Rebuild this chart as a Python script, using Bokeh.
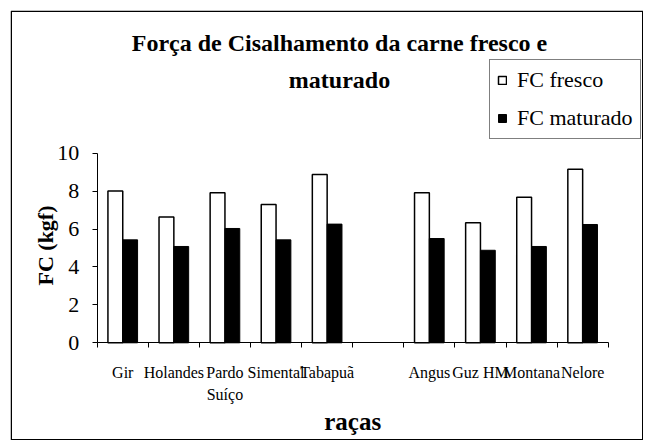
import numpy as np
from bokeh.plotting import figure
from bokeh.models import (Range1d, FixedTicker, Legend, LegendItem, Label,
                          ColumnDataSource, BoxAnnotation)
from bokeh.transform import dodge
from bokeh.embed import file_html
from bokeh.resources import INLINE

# ---- data ----
categories = ["Gir", "Holandes", "Pardo\nSuíço", "Simental", "Tabapuã", "",
              "Angus", "Guz HM", "Montana", "Nelore"]
fc_fresco = [8.0, 6.64, 7.91, 7.29, 8.88, None, 7.91, 6.33, 7.68, 9.15]
fc_maturado = [5.43, 5.08, 6.03, 5.43, 6.26, None, 5.50, 4.88, 5.08, 6.24]
y_ticks = [0, 2, 4, 6, 8, 10]
series_names = ["FC fresco", "FC maturado"]
title_lines = ["Força de Cisalhamento da carne fresco e", "maturado"]
x_label = "raças"
y_label = "FC (kgf)"

SERIF = "Liberation Serif"
n = len(categories)
y_max = 10

# ---- layout (pixels inside the bordered chart area) ----
W, H = 633, 430
AX_X, AX_Y = 86.7, 332.3         # canvas position of the axes origin
SLOT_PX = 51.1                   # width of one category slot
UNIT_PX = 18.96                  # pixels per kgf

def px_x(px):   # canvas x -> data x
    return (px - AX_X) / SLOT_PX

def px_y(py):   # canvas y (from top) -> data y
    return (AX_Y - py) / UNIT_PX

centers = np.arange(n) + 0.5
source = ColumnDataSource(dict(
    x=centers,
    fresco=np.array(fc_fresco, dtype=float),
    maturado=np.array(fc_maturado, dtype=float),
))

p = figure(width=W, height=H, output_backend="svg", toolbar_location=None,
           x_range=Range1d(px_x(0), px_x(W)), y_range=Range1d(px_y(H), px_y(0)),
           min_border_left=0, min_border_right=0,
           min_border_top=0, min_border_bottom=0)
p.title.visible = False
p.styles = {"margin-left": "10px", "margin-top": "10px"}
p.background_fill_color = "white"
p.border_fill_color = "white"
p.outline_line_color = None
p.xgrid.visible = False
p.ygrid.visible = False

# border of the chart area
p.add_layout(BoxAnnotation(left=px_x(0.75), right=px_x(W - 0.75),
                           top=px_y(0.75), bottom=px_y(H - 0.75),
                           fill_color=None, fill_alpha=0,
                           line_color="black", line_width=1.5, line_alpha=1))

bw = 0.29
r1 = p.vbar(x=dodge("x", -bw / 2, range=p.x_range), top="fresco", width=bw, bottom=0,
            source=source, fill_color="white", line_color="black", line_width=1.5)
r2 = p.vbar(x=dodge("x", bw / 2, range=p.x_range), top="maturado", width=bw, bottom=0,
            source=source, fill_color="black", line_color="black", line_width=1)

# x axis: slot boundaries as minor ticks, names at slot centres
xa = p.xaxis[0]
xa.fixed_location = 0
xa.bounds = (0, n)
xa.ticker = FixedTicker(ticks=[float(c) for c, lab in zip(centers, categories) if lab],
                        minor_ticks=list(range(n + 1)))
xa.major_label_overrides = {float(c): lab for c, lab in zip(centers, categories) if lab}
xa.major_tick_out = 0
xa.major_tick_in = 0
xa.minor_tick_out = 5
xa.minor_tick_in = 0
xa.minor_tick_line_color = "black"
xa.axis_line_color = "black"
xa.major_label_standoff = 16
xa.major_label_text_font = SERIF
xa.major_label_text_font_size = "16px"
xa.major_label_text_color = "black"
xa.major_label_text_line_height = 1.3

ya = p.yaxis[0]
ya.fixed_location = 0
ya.bounds = (0, y_max)
ya.ticker = FixedTicker(ticks=y_ticks, minor_ticks=[])
ya.major_tick_out = 5
ya.major_tick_in = 0
ya.minor_tick_out = 0
ya.minor_tick_in = 0
ya.axis_line_color = "black"
ya.major_tick_line_color = "black"
ya.major_label_standoff = 13
ya.major_label_text_font = SERIF
ya.major_label_text_font_size = "22px"
ya.major_label_text_color = "black"

# axis titles
p.add_layout(Label(x=px_x(34.5), y=px_y(235), text=y_label, angle=np.pi / 2,
                   text_align="center", text_baseline="middle",
                   text_font=SERIF, text_font_style="bold",
                   text_font_size="22px", text_color="black"))
p.add_layout(Label(x=(0 + n) / 2, y=px_y(411), text=x_label,
                   text_align="center", text_baseline="alphabetic",
                   text_font=SERIF, text_font_style="bold",
                   text_font_size="25px", text_color="black"))

# chart title (two centred lines)
for line, base_py in zip(title_lines, [32, 69]):
    p.add_layout(Label(x=px_x(329), y=px_y(base_py), text=line,
                       text_align="center", text_baseline="alphabetic",
                       text_font=SERIF, text_font_style="bold",
                       text_font_size="24px", text_color="black"))

# legend
legend = Legend(items=[LegendItem(label=series_names[0], renderers=[r1]),
                       LegendItem(label=series_names[1], renderers=[r2])],
                location=(479, 301), orientation="vertical",
                label_text_font=SERIF, label_text_font_size="22px", label_text_color="black",
                glyph_width=10, glyph_height=10, label_standoff=10,
                padding=7, spacing=12, margin=0,
                border_line_color="black", border_line_width=1.5,
                background_fill_color="white", background_fill_alpha=1.0)
p.add_layout(legend, "center")

open("out.html", "w").write(file_html(p, INLINE))
